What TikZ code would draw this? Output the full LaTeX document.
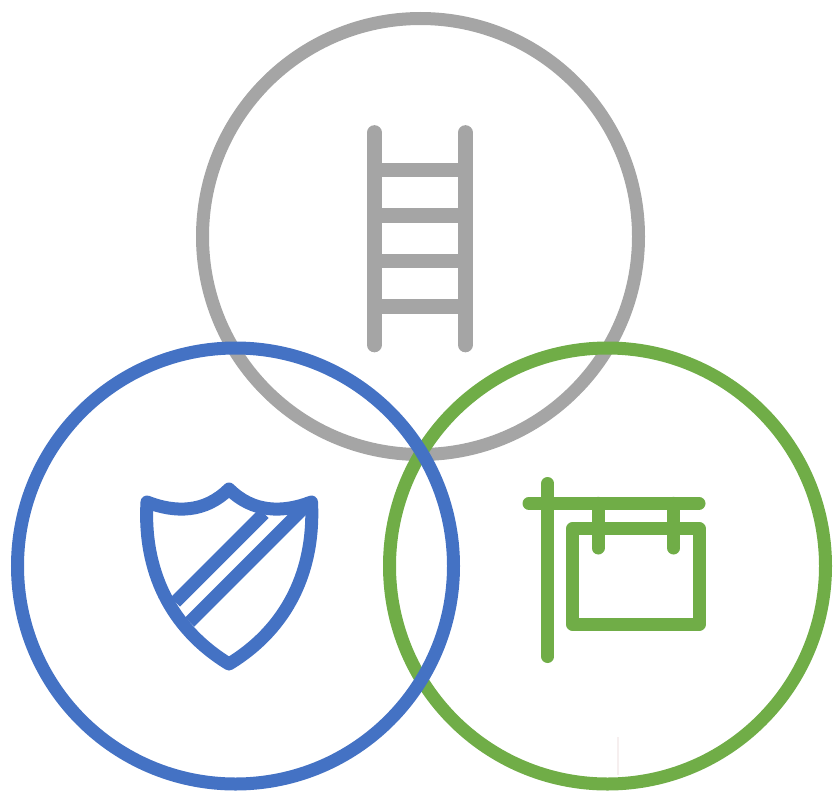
\documentclass[tikz,border=0pt]{standalone}
\usepackage{tikz}
\definecolor{ringgray}{HTML}{A5A5A5}
\definecolor{ringblue}{HTML}{4472C4}
\definecolor{ringgreen}{HTML}{70AD47}
\definecolor{faintmark}{HTML}{F6EFEF}
\tikzset{
    ring/.style={line width=9.75pt},
    iconline/.style={line width=9.75pt, line cap=round, line join=round},
    ladderline/.style={line width=11pt, line cap=round}
}

\begin{document}
\begin{tikzpicture}[x=0.75pt,y=-0.75pt]
    \useasboundingbox (0,0) rectangle (834,792);

    % gray ring
    \draw[ring, ringgray] (420.5,236.5) circle (218);

    % ladder
    \draw[line width=11pt, ringgray] (374,170) -- (465,170);
    \draw[line width=11pt, ringgray] (374,215.5) -- (465,215.5);
    \draw[line width=11pt, ringgray] (374,261) -- (465,261);
    \draw[line width=11pt, ringgray] (374,306.5) -- (465,306.5);
    \draw[ladderline, ringgray] (374.3,132.5) -- (374.3,345);
    \draw[ladderline, ringgray] (465.3,132.5) -- (465.3,345);

    % green ring
    \draw[ring, ringgreen] (607.5,566) circle (218);

    % sign
    \draw[iconline, ringgreen] (547.7,483.5) -- (547.7,656.5);
    \draw[iconline, ringgreen] (529,503.3) -- (699,503.3);
    \draw[iconline, ringgreen] (598,503.3) -- (598,548);
    \draw[iconline, ringgreen] (673.7,503.3) -- (673.7,548);
    \draw[iconline, ringgreen] (572.8,528.5) rectangle (699,624.5);

    % blue ring
    \draw[ring, ringblue] (235.5,566) circle (218);

    % shield
    \draw[iconline, ringblue] (147,502)
        .. controls (175,513) and (205,513) .. (229,489)
        .. controls (253,513) and (283,513) .. (311.5,502)
        .. controls (315,570) and (288,628) .. (229,664)
        .. controls (170,628) and (143,570) .. (147,502) -- cycle;
    \draw[line width=9.75pt, ringblue] (175.3,602) -- (264,513.3);
    \draw[line width=9.75pt, ringblue] (189.7,622) -- (310,501.7);

    % faint mark
    \draw[line width=1pt, faintmark] (618,737) -- (618,775);
\end{tikzpicture}
\end{document}
